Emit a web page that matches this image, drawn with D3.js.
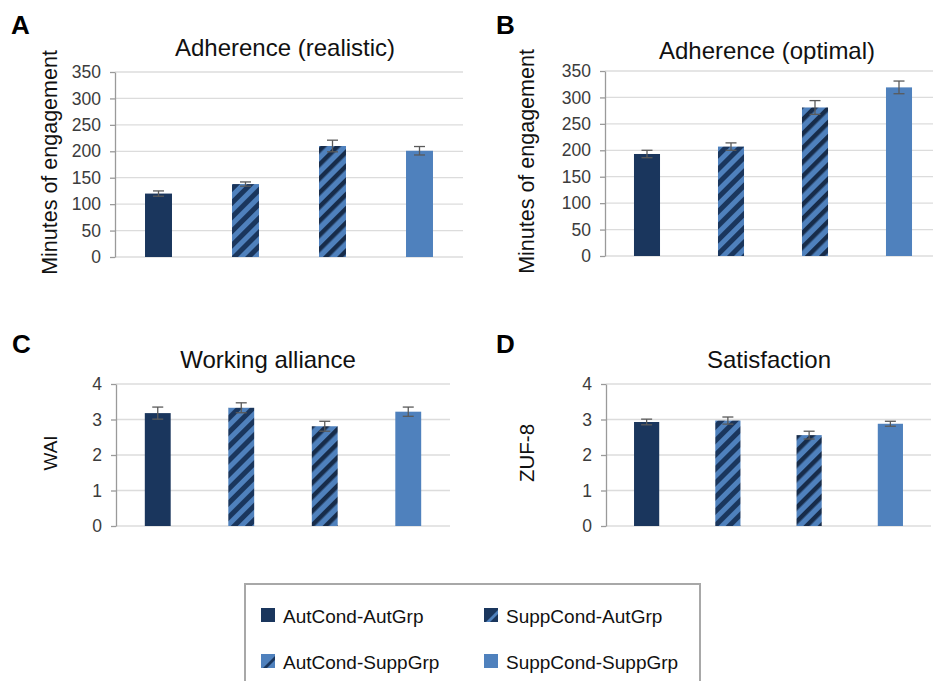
<!DOCTYPE html>
<html>
<head>
<meta charset="utf-8">
<script src="https://cdn.jsdelivr.net/npm/d3@7"></script>
<style>
  body { margin: 0; background: #fff; }
  svg { font-family: "Liberation Sans", Arial, sans-serif; display: block; }
</style>
</head>
<body>
<div id="chart"></div>
<script>
// group names (legend order = bar order)
var groups = ["AutCond-AutGrp", "SuppCond-AutGrp", "AutCond-SuppGrp", "SuppCond-SuppGrp"];

// means and error bars
var realisticMeans = [120, 138, 210, 201];
var realisticErr   = [5, 4, 11, 8];
var optimalMeans   = [193, 207, 281, 319];
var optimalErr     = [7, 7, 13, 12];
var waiMeans       = [3.18, 3.33, 2.81, 3.22];
var waiErr         = [0.17, 0.14, 0.14, 0.13];
var zufMeans       = [2.93, 2.97, 2.56, 2.88];
var zufErr         = [0.08, 0.10, 0.11, 0.07];

var minutesTicks = [0, 50, 100, 150, 200, 250, 300, 350];
var scoreTicks   = [0, 1, 2, 3, 4];

var DARK = "#1a365d", LIGHT = "#4f81bd", STRIPE_DARK = "#172c4a";

var svg = d3.select("#chart").append("svg")
    .attr("width", 933)
    .attr("height", 681);

var defs = svg.append("defs");

// hatch for bars: "/" stripes
function hatch(id, bg, fg, w, size) {
  var p = defs.append("pattern")
    .attr("id", id)
    .attr("patternUnits", "userSpaceOnUse")
    .attr("width", size).attr("height", size)
    .attr("patternTransform", "rotate(45)");
  p.append("rect").attr("width", size).attr("height", size).attr("fill", bg);
  p.append("rect").attr("width", w).attr("height", size).attr("fill", fg);
}
hatch("hatchSA", DARK, LIGHT, 5, 10);
hatch("hatchAS", LIGHT, STRIPE_DARK, 4.5, 10);

var fills = [DARK, "url(#hatchSA)", "url(#hatchAS)", LIGHT];

var panels = [
  {letter: "A", title: "Adherence (realistic)", ylabel: "Minutes of engagement", ysize: 21.5,
   means: realisticMeans, err: realisticErr, ticks: minutesTicks, max: 350,
   x0: 115, x1: 463, top: 72, bottom: 257, lx: 11, ly: 34, tx: 285, ty: 56, yl: 49},
  {letter: "B", title: "Adherence (optimal)", ylabel: "Minutes of engagement", ysize: 21.5,
   means: optimalMeans, err: optimalErr, ticks: minutesTicks, max: 350,
   x0: 605, x1: 941, top: 71, bottom: 256, lx: 496, ly: 34, tx: 767, ty: 59, yl: 526},
  {letter: "C", title: "Working alliance", ylabel: "WAI", ysize: 19,
   means: waiMeans, err: waiErr, ticks: scoreTicks, max: 4,
   x0: 116, x1: 450, top: 384, bottom: 526, lx: 12, ly: 353, tx: 268, ty: 368, yl: 50},
  {letter: "D", title: "Satisfaction", ylabel: "ZUF-8", ysize: 20.5,
   means: zufMeans, err: zufErr, ticks: scoreTicks, max: 4,
   x0: 606, x1: 931, top: 384, bottom: 526, lx: 496, ly: 353, tx: 769, ty: 368, yl: 527}
];

panels.forEach(function(p) {
  var g = svg.append("g");

  var x = d3.scaleBand()
    .domain(groups)
    .range([p.x0, p.x1])
    .paddingInner(0.69)
    .paddingOuter(0.345);

  var y = d3.scaleLinear()
    .domain([0, p.max])
    .range([p.bottom, p.top]);

  // gridlines
  g.selectAll(".grid")
    .data(p.ticks)
    .enter().append("line")
    .attr("x1", p.x0).attr("x2", p.x1)
    .attr("y1", function(d) { return y(d); })
    .attr("y2", function(d) { return y(d); })
    .attr("stroke", "#dcdcdc")
    .attr("stroke-width", 1.3);

  // y axis
  var yAxis = g.append("g")
    .attr("transform", "translate(" + p.x0 + ",0)")
    .call(d3.axisLeft(y).tickValues(p.ticks).tickFormat(d3.format("d"))
      .tickSize(5).tickPadding(9).tickSizeOuter(0));
  yAxis.select(".domain").attr("stroke", "#9a9a9a").attr("stroke-width", 1.3);
  yAxis.selectAll(".tick line").attr("stroke", "#9a9a9a").attr("stroke-width", 1.3);
  yAxis.selectAll(".tick text")
    .attr("font-size", 17.5)
    .attr("fill", "#3c3c3c")
    .attr("font-family", "Liberation Sans, Arial, sans-serif");

  // bars
  g.selectAll(".bar")
    .data(p.means)
    .enter().append("rect")
    .attr("x", function(d, i) { return x(groups[i]); })
    .attr("width", x.bandwidth())
    .attr("y", function(d) { return y(d); })
    .attr("height", function(d) { return p.bottom - y(d); })
    .attr("fill", function(d, i) { return fills[i]; });

  // error bars
  var eb = g.selectAll(".err")
    .data(p.means)
    .enter().append("g")
    .attr("stroke", "#5a5a5a")
    .attr("stroke-width", 1.3);
  var cx = function(i) { return x(groups[i]) + x.bandwidth() / 2; };
  eb.append("line")
    .attr("x1", function(d, i) { return cx(i); })
    .attr("x2", function(d, i) { return cx(i); })
    .attr("y1", function(d, i) { return y(d - p.err[i]); })
    .attr("y2", function(d, i) { return y(d + p.err[i]); });
  [1, -1].forEach(function(s) {
    eb.append("line")
      .attr("x1", function(d, i) { return cx(i) - 5.5; })
      .attr("x2", function(d, i) { return cx(i) + 5.5; })
      .attr("y1", function(d, i) { return y(d + s * p.err[i]); })
      .attr("y2", function(d, i) { return y(d + s * p.err[i]); });
  });

  // texts
  g.append("text")
    .attr("x", p.lx).attr("y", p.ly)
    .attr("font-size", 26).attr("font-weight", "bold")
    .text(p.letter);
  g.append("text")
    .attr("x", p.tx).attr("y", p.ty)
    .attr("text-anchor", "middle")
    .attr("font-size", 24).attr("fill", "#111")
    .text(p.title);
  g.append("text")
    .attr("transform", "translate(" + (p.yl + p.ysize * 0.36) + "," + ((p.top + p.bottom) / 2 - 2) + ") rotate(-90)")
    .attr("text-anchor", "middle")
    .attr("font-size", p.ysize).attr("fill", "#111")
    .text(p.ylabel);
});

// legend
var legendHatch = function(id, bg, fg) {
  var p = defs.append("pattern")
    .attr("id", id)
    .attr("patternUnits", "objectBoundingBox")
    .attr("width", 1).attr("height", 1);
  p.append("rect").attr("width", 14).attr("height", 14).attr("fill", bg);
  p.append("path").attr("d", "M2,14 L14,2 L14,6 L6,14 Z").attr("fill", fg);
};
legendHatch("legSA", DARK, LIGHT);
legendHatch("legAS", LIGHT, DARK);
var legendFills = [DARK, "url(#legSA)", "url(#legAS)", LIGHT];

var legend = svg.append("g");
legend.append("rect")
  .attr("x", 245).attr("y", 584)
  .attr("width", 455).attr("height", 110)
  .attr("fill", "none")
  .attr("stroke", "#a8a8a8")
  .attr("stroke-width", 2);

var legX = [261, 484], legY = [608, 654];
var items = legend.selectAll(".item")
  .data(groups)
  .enter().append("g")
  .attr("transform", function(d, i) {
    return "translate(" + legX[i % 2] + "," + legY[Math.floor(i / 2)] + ")";
  });
items.append("rect")
  .attr("width", 14).attr("height", 14)
  .attr("fill", function(d, i) { return legendFills[i]; });
items.append("text")
  .attr("x", 22).attr("y", 15)
  .attr("font-size", 19).attr("fill", "#111")
  .text(function(d) { return d; });
</script>
</body>
</html>
